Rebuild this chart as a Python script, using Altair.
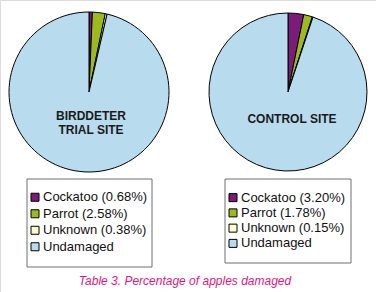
import altair as alt
import pandas as pd

categories = ["Cockatoo", "Parrot", "Unknown", "Undamaged"]
colors = ["#7b1c7a", "#9cba1e", "#fffcd2", "#b8dcee"]
trial_values = [0.68, 2.58, 0.38, 96.36]
control_values = [3.20, 1.78, 0.15, 94.87]
site_labels = ["BIRDDETER\nTRIAL SITE", "CONTROL SITE"]
caption = "Table 3. Percentage of apples damaged"


def make_df(values):
    rows = []
    for i, (c, v) in enumerate(zip(categories, values)):
        lab = c if c == "Undamaged" else f"{c} ({v:.2f}%)"
        rows.append({"category": c, "value": v, "idx": i, "label": lab})
    return pd.DataFrame(rows)


trial = make_df(trial_values)
control = make_df(control_values)

color_scale = alt.Scale(domain=categories, range=colors)


def pie(df, cx, cy, r):
    return alt.Chart(df).mark_arc(stroke="#000000", strokeWidth=1, outerRadius=r).encode(
        theta=alt.Theta("value:Q", stack=True),
        order=alt.Order("idx:Q"),
        color=alt.Color("category:N", scale=color_scale, legend=None),
        x=alt.value(cx),
        y=alt.value(cy),
    )


def legend(df, x0, x1, y0, y1, sq_x, txt_x, rows_range):
    box = alt.Chart(pd.DataFrame({"a": [0]})).mark_rect(
        fill="#ffffff", stroke="#6e6e6e", strokeWidth=1
    ).encode(x=alt.value(x0), x2=alt.value(x1), y=alt.value(y0), y2=alt.value(y1))
    yenc = alt.Y("category:N", sort=categories,
                 scale=alt.Scale(type="point", domain=categories, range=rows_range), axis=None)
    sq = alt.Chart(df).mark_square(size=64, stroke="#000000", strokeWidth=1, opacity=1).encode(
        x=alt.value(sq_x), y=yenc,
        color=alt.Color("category:N", scale=color_scale, legend=None),
    )
    txt = alt.Chart(df).mark_text(
        align="left", baseline="middle", fontSize=13, font="Liberation Sans", color="#111111"
    ).encode(x=alt.value(txt_x), y=yenc, text="label:N")
    return alt.layer(box, sq, txt).resolve_scale(y="independent")


lab_df = pd.DataFrame({"label": site_labels})
left_label = alt.Chart(lab_df.iloc[[0]]).mark_text(
    fontSize=12, fontWeight="bold", font="Liberation Sans", color="#1a1a1a",
    lineBreak="\n", lineHeight=14, align="center", baseline="middle"
).encode(x=alt.value(91), y=alt.value(116), text="label:N")
right_label = alt.Chart(lab_df.iloc[[1]]).mark_text(
    fontSize=12, fontWeight="bold", font="Liberation Sans", color="#1a1a1a",
    align="center", baseline="middle"
).encode(x=alt.value(292), y=alt.value(119), text="label:N")

cap = alt.Chart(pd.DataFrame({"t": [caption]})).mark_text(
    fontSize=12, fontStyle="italic", font="Liberation Sans", color="#e3157f",
    align="center", baseline="middle"
).encode(x=alt.value(185), y=alt.value(281), text="t:N")

chart = alt.layer(
    pie(trial, 89, 92, 80),
    pie(control, 288, 92, 79),
    left_label,
    right_label,
    legend(trial, 27, 152, 179, 267, 35, 43, [189, 255]),
    legend(control, 225, 351, 179, 263, 233, 241, [190, 251]),
    cap,
).resolve_scale(y="independent").properties(
    width=376, height=292, padding=0, autosize=alt.AutoSizeParams(type="none")
).configure_view(stroke=None).configure(background="#ffffff")

chart.save("out.html", embed_options={"renderer": "svg", "actions": False})
